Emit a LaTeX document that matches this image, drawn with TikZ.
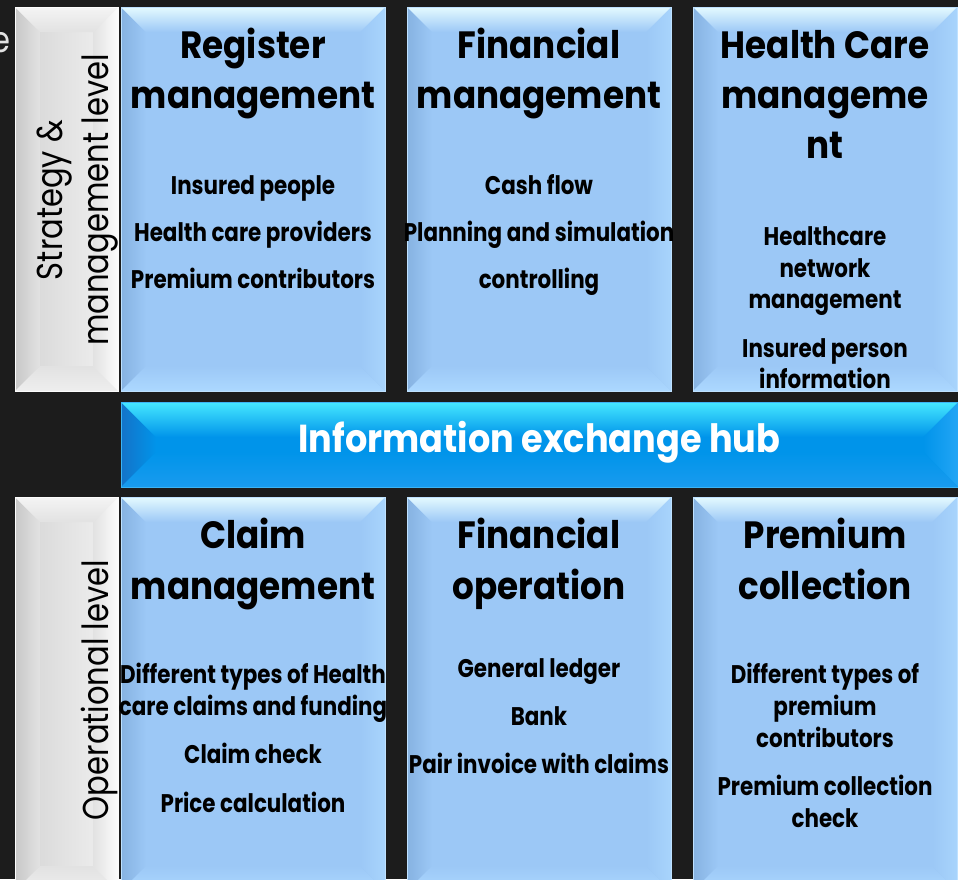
\documentclass[tikz,border=0pt]{standalone}
\usepackage{fontspec}
\setmainfont{Poppins}
\newfontfamily\headfont{Poppins}[FakeStretch=0.9]
\newfontfamily\itemfont{Poppins}[FakeStretch=0.84]
\newfontfamily\levelfont{Poppins}[FakeStretch=0.85]
\usetikzlibrary{positioning,calc}

\definecolor{bgdark}{RGB}{28,28,28}
\definecolor{paneface}{RGB}{156,200,246}
\definecolor{panetop}{RGB}{228,250,255}
\definecolor{paneleft}{RGB}{134,178,225}
\definecolor{paneright}{RGB}{168,212,252}
\definecolor{panebot}{RGB}{172,216,255}
\definecolor{panerim}{RGB}{190,225,255}
\definecolor{hubface}{RGB}{0,148,234}
\definecolor{hubtop}{RGB}{70,232,255}
\definecolor{hubleft}{RGB}{20,115,200}
\definecolor{hubright}{RGB}{35,165,245}
\definecolor{hubbot}{RGB}{25,155,238}
\definecolor{hubrim}{RGB}{60,180,245}
\definecolor{levelleft}{RGB}{212,212,212}
\definecolor{levelright}{RGB}{242,242,242}
\definecolor{levelmid}{RGB}{226,226,226}
\definecolor{leveltop}{RGB}{244,244,244}
\definecolor{levelside}{RGB}{200,200,200}
\definecolor{levelrim}{RGB}{252,252,252}
\definecolor{levelbot}{RGB}{238,238,238}

\tikzset{
  bevel/.style n args={6}{path picture={
    \path (path picture bounding box.north west) coordinate (pNW)
          (path picture bounding box.north east) coordinate (pNE)
          (path picture bounding box.south west) coordinate (pSW)
          (path picture bounding box.south east) coordinate (pSE);
    \shade[left color=#3, right color=#1] (pNW) -- ([shift={(#6,#6)}]pNW) -- ([shift={(#6,-#6)}]pSW) -- (pSW) -- cycle;
    \shade[left color=#1, right color=#4] (pNE) -- ([shift={(-#6,#6)}]pNE) -- ([shift={(-#6,-#6)}]pSE) -- (pSE) -- cycle;
    \shade[top color=#1, bottom color=#5] (pSW) -- (pSE) -- ([shift={(-#6,-#6)}]pSE) -- ([shift={(#6,-#6)}]pSW) -- cycle;
    \shade[top color=#2, bottom color=#1] (pNW) -- (pNE) -- ([shift={(-#6,#6)}]pNE) -- ([shift={(#6,#6)}]pNW) -- cycle;
  }}
}

\begin{document}
\begin{tikzpicture}[x=1pt, y=-1pt,
    panel/.style={rectangle, inner sep=0pt, minimum width=264pt, fill=paneface,
                  draw=panerim, line width=1pt,
                  bevel={paneface}{panetop}{paneleft}{paneright}{panebot}{25}},
    levelbox/.style={rectangle, inner sep=0pt, minimum width=103pt,
                  left color=levelleft, right color=levelright, draw=levelrim, line width=1pt,
                  bevel={levelmid}{leveltop}{levelside}{levelrim}{levelbot}{25}},
    hubbar/.style={rectangle, inner sep=0pt, fill=hubface, draw=hubrim, line width=1pt,
                  bevel={hubface}{hubtop}{hubleft}{hubright}{hubbot}{35}},
    head/.style={font=\headfont\bfseries\fontsize{38}{46}\selectfont, anchor=base, inner sep=0pt},
    item/.style={font=\itemfont\bfseries\fontsize{25.5}{32}\selectfont, anchor=base, inner sep=0pt},
    level/.style={font=\levelfont\fontsize{36}{44}\selectfont, anchor=base, rotate=90, inner sep=0pt},
    cutoff/.style={font=\levelfont\fontsize{36}{44}\selectfont, anchor=base east, inner sep=0pt, text=levelmid},
    hubtext/.style={font=\headfont\bfseries\fontsize{39}{47}\selectfont, anchor=base, inner sep=0pt, text=white},
]
\useasboundingbox (0,0) rectangle (958,879);
\fill[bgdark] (0,0) rectangle (958,879);
\begin{scope}
\clip (0,0) rectangle (958,879);

% Strategy & management level
\node[levelbox, minimum height=384pt] (stratbox) at (66.5,199) {};
\node[panel, minimum height=384pt] (regbox) at (253,199) {};
\node[panel, minimum height=384pt] (finbox) at (539,199) {};
\node[panel, minimum height=384pt] (carebox) at (825,199) {};

% Hub
\node[hubbar, minimum width=837pt, minimum height=85pt] (hub) at (539.5,444.5) {};

% Operational level
\node[levelbox, minimum height=394pt] (operbox) at (66.5,694) {};
\node[panel, minimum height=394pt] (claimbox) at (253,694) {};
\node[panel, minimum height=394pt] (finopbox) at (539,694) {};
\node[panel, minimum height=394pt] (premiumbox) at (825,694) {};

% Level labels
\node[cutoff] (edge) at (11,52) {e};
\node[level] (strat1) at (62,200) {Strategy \&};
\node[level] (strat2) at (108,200) {management level};
\node[level] (oper1) at (108,690) {Operational level};

% Register management
\node[head] (regt1) at (253,58) {Register};
\node[head] (regt2) at (253,108) {management};
\node[item] (reg1) at (253,194) {Insured people};
\node[item] (reg2) at (253,241) {Health care providers};
\node[item] (reg3) at (253,288) {Premium contributors};

% Financial management
\node[head] (fint1) at (539,58) {Financial};
\node[head] (fint2) at (539,108) {management};
\node[item] (fin1) at (539,194) {Cash flow};
\node[item] (fin2) at (539,241) {Planning and simulation};
\node[item] (fin3) at (539,288) {controlling};

% Health Care management
\node[head] (caret1) at (825,58) {Health Care};
\node[head] (caret2) at (825,108) {manageme};
\node[head] (caret3) at (825,158) {nt};
\node[item] (care1) at (825,245) {Healthcare};
\node[item] (care2) at (825,277) {network};
\node[item] (care3) at (825,308) {management};
\node[item] (care4) at (825,357) {Insured person};
\node[item] (care5) at (825,388) {information};

% Information exchange hub
\node[hubtext] (hubt) at (539.5,452) {Information exchange hub};

% Claim management
\node[head] (claimt1) at (253,548) {Claim};
\node[head] (claimt2) at (253,599) {management};
\node[item] (claim1) at (253,683) {Different types of Health};
\node[item] (claim2) at (253,715) {care claims and funding};
\node[item] (claim3) at (253,763) {Claim check};
\node[item] (claim4) at (253,812) {Price calculation};

% Financial operation
\node[head] (finopt1) at (539,548) {Financial};
\node[head] (finopt2) at (539,599) {operation};
\node[item] (finop1) at (539,677) {General ledger};
\node[item] (finop2) at (539,725) {Bank};
\node[item] (finop3) at (539,773) {Pair invoice with claims};

% Premium collection
\node[head] (premt1) at (825,548) {Premium};
\node[head] (premt2) at (825,599) {collection};
\node[item] (prem1) at (825,683) {Different types of};
\node[item] (prem2) at (825,715) {premium};
\node[item] (prem3) at (825,747) {contributors};
\node[item] (prem4) at (825,795) {Premium collection};
\node[item] (prem5) at (825,827) {check};
\end{scope}
\end{tikzpicture}
\end{document}
